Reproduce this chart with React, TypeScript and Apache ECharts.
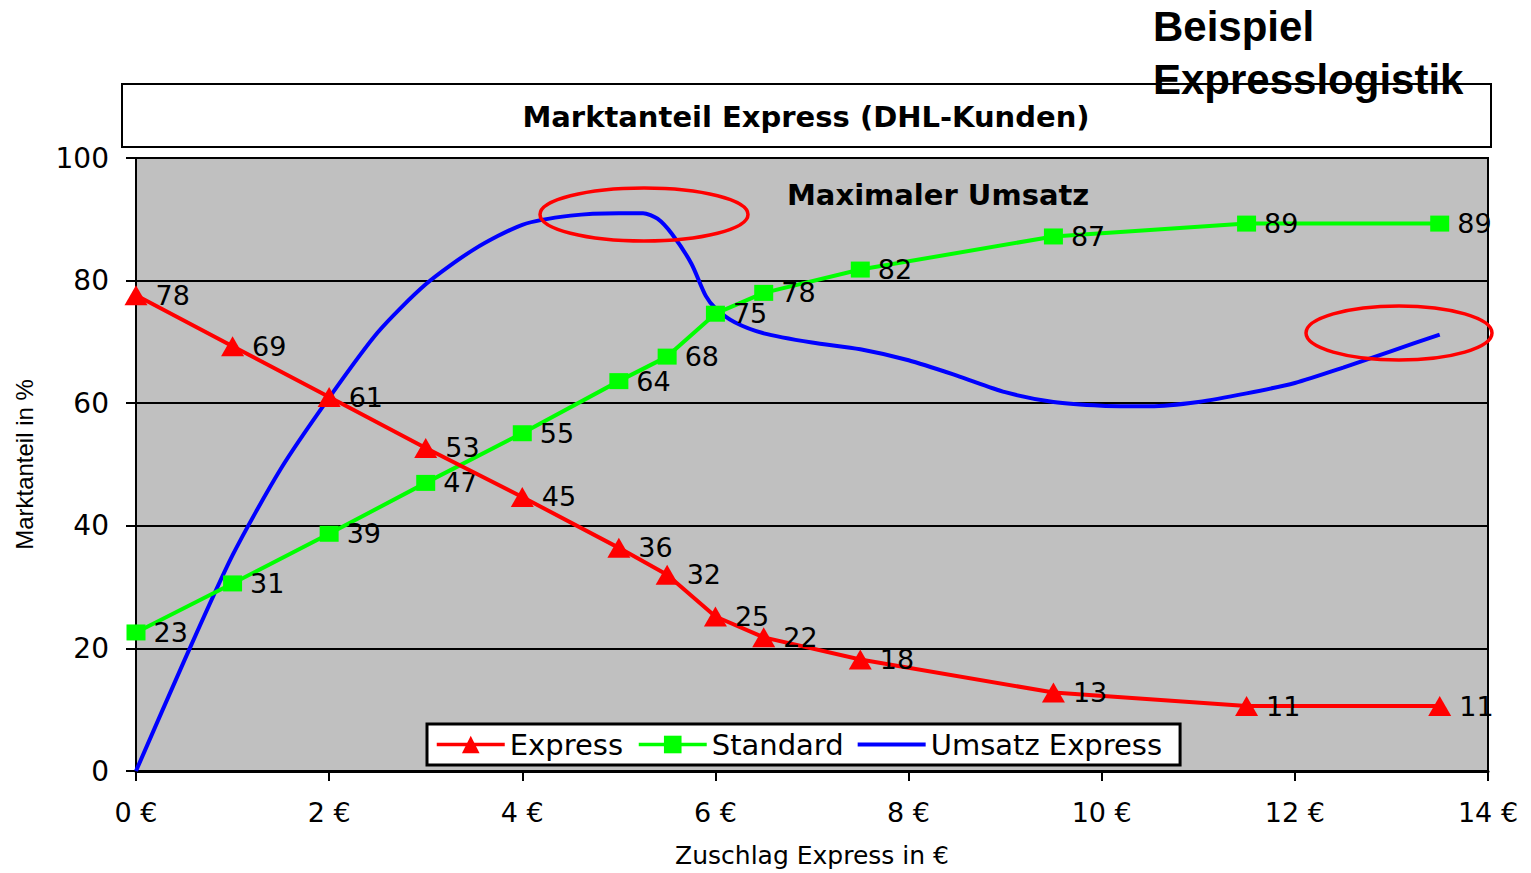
import React, { useEffect, useRef } from "react";
import * as echarts from "echarts";

// Zuschlag Express in € (x positions of the market-share points)
const surcharge = [0, 1, 2, 3, 4, 5, 5.5, 6, 6.5, 7.5, 9.5, 11.5, 13.5];
// Marktanteil Express in %
const expressShare = [77.6, 69.3, 61.0, 52.7, 44.7, 36.4, 32.0, 25.2, 21.8, 18.2, 12.8, 10.6, 10.6];
// Marktanteil Standard in %
const standardShare = [22.6, 30.6, 38.7, 47.0, 55.1, 63.6, 67.6, 74.6, 78.0, 81.8, 87.2, 89.3, 89.3];

// Umsatz Express curve
const revenueX = [0, 0.5, 1, 1.5, 2, 2.5, 3, 3.5, 4, 4.5, 5, 5.25, 5.4, 5.55, 5.75, 5.9, 6, 6.2, 6.5, 7, 7.5, 8, 8.5, 9, 9.5, 10, 10.5, 11, 11.5, 12, 12.5, 13, 13.5];
const revenueY = [0, 18, 35.2, 49.3, 60.9, 71.5, 79.4, 85.1, 89.1, 90.6, 91.0, 91.0, 90.1, 87.6, 82.8, 77.5, 75.5, 73.2, 71.4, 69.9, 68.8, 67.0, 64.5, 61.8, 60.2, 59.6, 59.5, 60.2, 61.6, 63.3, 65.8, 68.5, 71.2];

const xTicks = [0, 2, 4, 6, 8, 10, 12, 14];

const NUM_FONT = '"DejaVu Sans", sans-serif';

export default function App() {
  const ref = useRef<HTMLDivElement>(null);

  useEffect(() => {
    if (!ref.current) return;
    const chart = echarts.init(ref.current, undefined, { renderer: "svg" });

    const labelCfg = {
      show: true,
      position: "right",
      distance: 8,
      color: "#000",
      fontFamily: NUM_FONT,
      fontSize: 27,
      formatter: (p: any) => String(Math.round(p.value[1])),
    };

    chart.setOption({
      animation: false,
      backgroundColor: "#ffffff",
      grid: {
        left: 136,
        top: 158,
        width: 1352,
        height: 615,
        show: true,
        backgroundColor: "#c0c0c0",
        borderColor: "#000",
        borderWidth: 2,
      },
      legend: {
        left: 427,
        top: 724,
        data: [
          "Express",
          "Standard",
          { name: "Umsatz Express", icon: "path://M0,0 L68,0 L68,4 L0,4 Z" },
        ],
        backgroundColor: "#ffffff",
        borderColor: "#000",
        borderWidth: 3,
        borderRadius: 0,
        padding: [6, 18, 6, 8],
        itemWidth: 68,
        itemHeight: 22,
        itemGap: 14,
        lineStyle: { width: 3.5 },
        textStyle: { color: "#000", fontFamily: NUM_FONT, fontSize: 29 },
      },
      xAxis: {
        type: "value",
        min: 0,
        max: 14,
        interval: 2,
        name: "Zuschlag Express in €",
        nameLocation: "middle",
        nameGap: 72,
        nameTextStyle: { color: "#000", fontFamily: NUM_FONT, fontSize: 25 },
        axisLine: { show: true, lineStyle: { color: "#000", width: 3 } },
        axisTick: { show: true, inside: false, length: 10, lineStyle: { color: "#000", width: 2 } },
        axisLabel: {
          color: "#000",
          fontFamily: NUM_FONT,
          fontSize: 27,
          margin: 28,
          formatter: (v: number) => (xTicks.includes(v) ? `${v} €` : ""),
        },
        splitLine: { show: false },
      },
      yAxis: {
        type: "value",
        min: 0,
        max: 100,
        interval: 20,
        name: "Marktanteil in %",
        nameLocation: "middle",
        nameGap: 100,
        nameRotate: 90,
        nameTextStyle: { color: "#000", fontFamily: '"Liberation Sans", Arial, sans-serif', fontSize: 24 },
        axisLine: { show: true, lineStyle: { color: "#000", width: 2 } },
        axisTick: { show: true, inside: false, length: 10, lineStyle: { color: "#000", width: 2 } },
        axisLabel: { color: "#000", fontFamily: NUM_FONT, fontSize: 28, margin: 27 },
        splitLine: { show: true, lineStyle: { color: "#000", width: 2 } },
      },
      series: [
        {
          name: "Umsatz Express",
          type: "line",
          data: revenueX.map((x, i) => [x, revenueY[i]]),
          symbol: "none",
          smooth: 0.25,
          color: "#0000ff",
          lineStyle: { color: "#0000ff", width: 4 },
          z: 2,
        },
        {
          name: "Standard",
          type: "line",
          data: surcharge.map((x, i) => [x, standardShare[i]]),
          symbol: "rect",
          symbolSize: [19, 16],
          color: "#00ff00",
          itemStyle: { color: "#00ff00" },
          lineStyle: { color: "#00ff00", width: 4 },
          label: labelCfg,
          z: 3,
        },
        {
          name: "Express",
          type: "line",
          data: surcharge.map((x, i) => [x, expressShare[i]]),
          symbol: "triangle",
          symbolSize: [23, 20],
          color: "#ff0000",
          itemStyle: { color: "#ff0000" },
          lineStyle: { color: "#ff0000", width: 4 },
          label: labelCfg,
          z: 4,
        },
      ],
      graphic: [
        {
          type: "rect",
          shape: { x: 122, y: 84, width: 1369, height: 63 },
          style: { fill: "#ffffff", stroke: "#000", lineWidth: 2 },
          z: 10,
        },
        {
          type: "text",
          x: 806,
          y: 117,
          style: {
            text: "Marktanteil Express (DHL-Kunden)",
            font: 'bold 29px "DejaVu Sans", sans-serif',
            fill: "#000",
            align: "center",
            verticalAlign: "middle",
            textAlign: "center",
            textVerticalAlign: "middle",
          },
          z: 11,
        },
        {
          type: "text",
          x: 1153,
          y: 0,
          style: {
            text: "Beispiel\nExpresslogistik",
            font: 'bold 42px "Liberation Sans", Arial, sans-serif',
            lineHeight: 53,
            fill: "#000",
            align: "left",
            verticalAlign: "top",
            textAlign: "left",
            textVerticalAlign: "top",
          },
          z: 12,
        },
        {
          type: "text",
          x: 787,
          y: 195,
          style: {
            text: "Maximaler Umsatz",
            font: 'bold 29px "DejaVu Sans", sans-serif',
            fill: "#000",
            align: "left",
            verticalAlign: "middle",
            textAlign: "left",
            textVerticalAlign: "middle",
          },
          z: 12,
        },
        {
          type: "ellipse",
          shape: { cx: 644, cy: 214.5, rx: 104, ry: 26.5 },
          style: { fill: "none", stroke: "#ff0000", lineWidth: 3.5 },
          z: 12,
        },
        {
          type: "ellipse",
          shape: { cx: 1399, cy: 333, rx: 93, ry: 27 },
          style: { fill: "none", stroke: "#ff0000", lineWidth: 3.5 },
          z: 12,
        },
      ],
    });

    return () => chart.dispose();
  }, []);

  return (
    <div
      ref={ref}
      style={{ position: "absolute", left: 0, top: 0, width: 1531, height: 873 }}
    />
  );
}
